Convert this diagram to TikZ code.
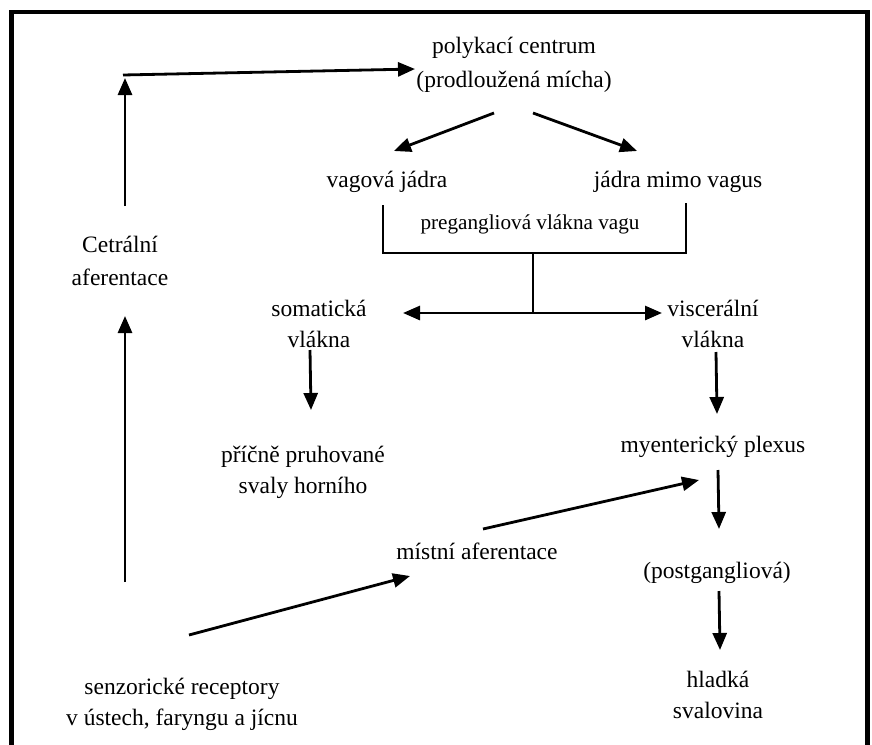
\documentclass[tikz,border=0pt]{standalone}
\usepackage{fontspec}
\setmainfont{Liberation Serif}
\usetikzlibrary{arrows.meta}
\begin{document}
\begin{tikzpicture}[x=1pt,y=-1pt,
  txt/.style={inner sep=0pt,align=center,font=\fontsize{23.5}{31}\selectfont},
  small/.style={inner sep=0pt,align=center,font=\fontsize{21.2}{26}\selectfont},
  arr/.style={line width=2.8pt,-{Triangle[length=17pt,width=14pt]}},
  dbl/.style={line width=2.8pt,{Triangle[length=17pt,width=14pt]}-{Triangle[length=17pt,width=14pt]}},
  thin/.style={line width=1.6pt}]
\useasboundingbox (0,0) rectangle (872,744);
\draw[line width=4.8pt] (11.5,770) -- (11.5,12) -- (867.5,12) -- (867.5,770);

% text nodes (anchored at the baseline of the last line)
\node[txt,anchor=base] (poly) at (514,87) {polykací centrum\\[3pt](prodloužená mícha)};
\node[txt,anchor=base] (cetr) at (120,285) {Cetrální\\[2pt]aferentace};
\node[txt,anchor=base] (vag) at (387,187) {vagová jádra};
\node[txt,anchor=base] (mimo) at (678,187) {jádra mimo vagus};
\node[small,anchor=base] (preg) at (530,229) {pregangliová vlákna vagu};
\node[txt,anchor=base] (som) at (319,347) {somatická\\vlákna};
\node[txt,anchor=base] (visc) at (713,347) {viscerální\\vlákna};
\node[txt,anchor=base] (pric) at (303,493) {příčně pruhované\\svaly horního};
\node[txt,anchor=base] (myen) at (713,452) {myenterický plexus};
\node[txt,anchor=base] (mist) at (477,559) {místní aferentace};
\node[txt,anchor=base] (post) at (717,578) {(postgangliová)};
\node[txt,anchor=base] (senz) at (182,725) {senzorické receptory\\v ústech, faryngu a jícnu};
\node[txt,anchor=base] (hlad) at (718,718) {hladká\\svalovina};

% connector end points
\coordinate (a1s) at (123,75);  \coordinate (a1e) at (415,69);
\coordinate (a2s) at (125,206); \coordinate (a2e) at (125,78);
\coordinate (a3s) at (125,582); \coordinate (a3e) at (125,316);
\coordinate (a4s) at (494,113); \coordinate (a4e) at (394,151);
\coordinate (a5s) at (533,113); \coordinate (a5e) at (637,151);
\coordinate (bl) at (383,205); \coordinate (blb) at (383,253);
\coordinate (br) at (686,203); \coordinate (brb) at (686,253);
\coordinate (bm) at (533,253); \coordinate (bmb) at (533,313);
\coordinate (dl) at (403,313); \coordinate (dr) at (662,313);
\coordinate (a6s) at (310,350); \coordinate (a6e) at (311,410);
\coordinate (a7s) at (716,352); \coordinate (a7e) at (717,414);
\coordinate (a8s) at (483,529); \coordinate (a8e) at (699,480);
\coordinate (a9s) at (718,470); \coordinate (a9e) at (719,529);
\coordinate (a10s) at (189,635); \coordinate (a10e) at (410,576);
\coordinate (a11s) at (719,591); \coordinate (a11e) at (720,650);

\draw[arr] (a1s) -- (a1e);
\draw[arr] (a2s) -- (a2e);
\draw[arr] (a3s) -- (a3e);
\draw[arr] (a4s) -- (a4e);
\draw[arr] (a5s) -- (a5e);
\draw[thin] (bl) -- (blb) -- (brb) -- (br);
\draw[thin] (bm) -- (bmb);
\draw[dbl] (dl) -- (dr);
\draw[arr] (a6s) -- (a6e);
\draw[arr] (a7s) -- (a7e);
\draw[arr] (a8s) -- (a8e);
\draw[arr] (a9s) -- (a9e);
\draw[arr] (a10s) -- (a10e);
\draw[arr] (a11s) -- (a11e);
\end{tikzpicture}
\end{document}
